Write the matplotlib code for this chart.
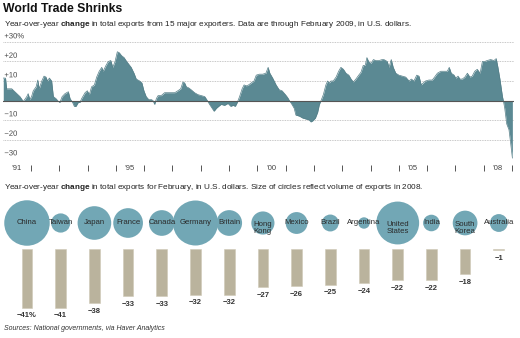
import matplotlib
matplotlib.use("Agg")
import matplotlib.pyplot as plt
import matplotlib.patheffects as pe

plt.rcParams['font.family'] = ['Liberation Sans', 'DejaVu Sans']
plt.rcParams['mathtext.fontset'] = 'custom'
plt.rcParams['mathtext.rm'] = 'Liberation Sans'
plt.rcParams['mathtext.bf'] = 'Liberation Sans:bold'

# year-over-year change in exports of 15 major exporters (%)
trade_years = [1991.02, 1991.10, 1991.14, 1991.32, 1991.43, 1991.61, 1991.73, 1991.85, 1991.90, 1991.96,
               1992.02, 1992.08, 1992.18, 1992.24, 1992.29, 1992.38, 1992.46, 1992.53, 1992.58, 1992.65,
               1992.73, 1992.79, 1992.88, 1992.97, 1993.02, 1993.10, 1993.20, 1993.32, 1993.38, 1993.47,
               1993.53, 1993.59, 1993.67, 1993.73, 1993.79, 1993.91, 1993.99, 1994.06, 1994.14, 1994.24,
               1994.32, 1994.41, 1994.50, 1994.55, 1994.65, 1994.73, 1994.82, 1994.89, 1994.97, 1995.05,
               1995.12, 1995.20, 1995.29, 1995.38, 1995.54, 1995.64, 1995.72, 1995.78, 1995.84, 1995.92,
               1995.99, 1996.07, 1996.16, 1996.25, 1996.31, 1996.37, 1996.43, 1996.49, 1996.60, 1996.72,
               1996.84, 1996.96, 1997.08, 1997.19, 1997.29, 1997.37, 1997.43, 1997.49, 1997.57, 1997.66,
               1997.78, 1997.90, 1998.02, 1998.14, 1998.23, 1998.31, 1998.40, 1998.47, 1998.55, 1998.63,
               1998.72, 1998.84, 1998.96, 1999.06, 1999.14, 1999.22, 1999.29, 1999.37, 1999.46, 1999.53,
               1999.61, 1999.69, 1999.78, 1999.88, 1999.96, 2000.07, 2000.19, 2000.30, 2000.38, 2000.44,
               2000.54, 2000.66, 2000.77, 2000.87, 2000.99, 2001.07, 2001.13, 2001.22, 2001.30, 2001.36,
               2001.48, 2001.60, 2001.72, 2001.83, 2001.89, 2001.95, 2002.05, 2002.13, 2002.19, 2002.25,
               2002.33, 2002.42, 2002.48, 2002.54, 2002.60, 2002.68, 2002.78, 2002.87, 2002.95, 2003.04,
               2003.13, 2003.23, 2003.31, 2003.39, 2003.48, 2003.58, 2003.66, 2003.74, 2003.81, 2003.87,
               2003.93, 2004.01, 2004.10, 2004.18, 2004.30, 2004.41, 2004.47, 2004.59, 2004.65, 2004.73,
               2004.80, 2004.89, 2005.00, 2005.12, 2005.24, 2005.36, 2005.44, 2005.53, 2005.63, 2005.71,
               2005.79, 2005.86, 2005.94, 2006.06, 2006.18, 2006.26, 2006.36, 2006.48, 2006.59, 2006.71,
               2006.78, 2006.85, 2006.95, 2007.01, 2007.09, 2007.16, 2007.24, 2007.33, 2007.42, 2007.51,
               2007.59, 2007.68, 2007.77, 2007.87, 2007.95, 2008.03, 2008.12, 2008.24, 2008.36, 2008.44,
               2008.50, 2008.57, 2008.66, 2008.69, 2008.74, 2008.81, 2008.89, 2008.95, 2009.01]
trade_change = [11.5, 11.5, 6, 6, 4.5, 2, -0.5, 2, 3.5, 0.5,
                2, 5, 7, 10.5, 6, 10, 12.5, 12, 10, 11.5,
                10, 2, 1, -0.5, -1, 2, 3.5, 4.5, 1, -1,
                -3, -3, -1, -1, 1, 4, 5, 3, 7, 8,
                12, 15, 17, 15, 18, 20, 20.5, 17, 20, 25,
                24.5, 23, 22, 20, 17, 14, 11, 10.5, 10, 9,
                5, 2, 0.5, 0.5, 0, -2, 1, 2.5, 2.5, 4,
                4, 4, 4, 5, 6, 9.5, 9, 7, 6.5, 5.5,
                4, 3, 2.5, 2, 0, -2, -4, -5.5, -4, -3,
                -2, -2.5, -1.5, -3, -2.5, -3, -1, 2, 6, 8,
                7.5, 8, 9, 10, 13, 13.5, 13.5, 14, 17, 14,
                11.5, 8, 5.5, 5, 3, 1.5, 0, -2, -4, -7.5,
                -8, -9, -9.5, -10, -11, -10.5, -9, -6, -2, 0,
                3, 8, 10, 9, 10, 10, 12, 15, 17, 16,
                14, 13, 11, 9.5, 11, 13, 14.5, 18, 18, 22,
                20, 19, 21, 20.5, 20.5, 21, 21, 20, 17, 21,
                17, 14, 13, 12.5, 12, 10, 11, 10, 13, 12.5,
                8, 9, 10, 10.5, 10.5, 12, 14, 15, 15, 15,
                17, 14, 13, 11.5, 12.5, 11, 11, 12, 14, 12,
                12.5, 15, 16, 14, 20, 20, 20.5, 21, 20.5, 21.5,
                17, 11, 2, 0, -4, -12, -15, -22, -29.5]

tick_years = list(range(1992, 2010))
label_years = [1991, 1995, 2000, 2005, 2008]
year_labels = ["\u201991", "\u201995", "\u201900", "\u201905", "\u201908"]
grid_values = [30, 20, 10, -10, -20, -30]
grid_labels = ["+30%", "+20", "+10", "\u221210", "\u221220", "\u221230"]

countries = ["China", "Taiwan", "Japan", "France", "Canada", "Germany", "Britain", "Hong\nKong",
             "Mexico", "Brazil", "Argentina", "United\nStates", "India", "South\nKorea", "Australia"]
feb_change = [-41, -41, -38, -33, -33, -32, -32, -27, -26, -25, -24, -22, -22, -18, -1]
# 2008 exports, billions of dollars (circle area)
exports_2008 = [1430, 255, 782, 609, 456, 1400, 458, 370, 330, 198, 90, 1270, 190, 422, 220]

W, H = 520, 338
fig = plt.figure(figsize=(W / 100, H / 100), dpi=100)


def px_axes(x0, y0, x1, y1):
    return fig.add_axes([x0 / W, 1 - y1 / H, (x1 - x0) / W, (y1 - y0) / H])


fig.text(3 / W, 1 - 9 / H, "World Trade Shrinks", fontsize=8.8, fontweight="heavy",
         ha="left", va="center", color="#111111")
fig.text(4 / W, 1 - 24 / H,
         r"Year-over-year $\mathbf{change}$ in total exports from 15 major exporters. "
         "Data are through February 2009, in U.S. dollars.",
         fontsize=5.9, ha="left", va="center", color="#222222")

# --- area chart ---
ax = px_axes(2.7, 42, 513.5, 159)
ax.set_xlim(1991, 2009.05)
ax.set_ylim(-30, 30)
for v, lab in zip(grid_values, grid_labels):
    ax.axhline(v, color="#b5b5b5", lw=0.6, ls=(0, (1, 1)), zorder=0)
    ax.annotate(lab, (0, v), xycoords=("axes fraction", "data"), xytext=(1.2, 1.2),
                textcoords="offset points", fontsize=5.5, color="#444444", ha="left", va="bottom",
                zorder=5, path_effects=[pe.withStroke(linewidth=1.2, foreground="white")])
ax.fill_between(trade_years, trade_change, 0, color="#5b8993", lw=0, zorder=1)
ax.plot(trade_years, trade_change, color="#557f88", lw=0.5, zorder=1)
ax.axhline(0, color="#555555", lw=0.8, zorder=2)
for s in ["top", "left", "right"]:
    ax.spines[s].set_visible(False)
ax.spines["bottom"].set_position(("outward", 4))
ax.spines["bottom"].set_color("none")
ax.set_yticks([])
ax.set_xticks(tick_years)
ax.set_xticklabels([])
ax.set_xticks([y + 0.5 for y in label_years], minor=True)
ax.set_xticklabels(year_labels, minor=True)
ax.tick_params(axis="x", which="major", length=4.5, width=0.7, color="#555555")
ax.tick_params(axis="x", which="minor", length=0, pad=0.5, labelsize=5.5, labelcolor="#444444")

fig.text(4 / W, 1 - 187 / H,
         r"Year-over-year $\mathbf{change}$ in total exports for February, in U.S. dollars. "
         "Size of circles reflect volume of exports in 2008.",
         fontsize=5.9, ha="left", va="center", color="#222222")

idx = list(range(len(countries)))

# --- circles ---
axc = px_axes(10.15, 198, 515.65, 248)
axc.set_xlim(-0.5, 14.5)
axc.set_ylim(-1, 1)
axc.axis("off")
axc.scatter(idx, [0] * len(idx), s=[v * 0.75 for v in exports_2008], color="#72a7b5",
            linewidths=0, clip_on=False, zorder=1)
for i, name in zip(idx, countries):
    dy = -3.4 if "\n" in name else 0
    axc.annotate(name, (i, 0), xytext=(0, dy), textcoords="offset points", ha="center", va="center",
                 fontsize=5.6, color="#2a2a2a", linespacing=1.05, zorder=3, annotation_clip=False)

# --- bars ---
axb = px_axes(10.15, 248.5, 515.65, 338)
axb.set_xlim(-0.5, 14.5)
axb.set_ylim(-62.15, 0)
axb.axis("off")
axb.bar(idx, feb_change, width=0.32, color="#bab39d", edgecolor="#cfc9b6", lw=0.4, clip_on=False)
for i, v in zip(idx, feb_change):
    lab = "\u2212%d" % abs(v) + ("%" if i == 0 else "")
    axb.annotate(lab, (i, v), xytext=(0, -3.5), textcoords="offset points", ha="center", va="top",
                 fontsize=5.5, fontweight="bold", color="#333333", annotation_clip=False)

fig.text(4 / W, 1 - 329 / H, "Sources: National governments, via Haver Analytics", fontsize=5.0,
         style="italic", ha="left", va="center", color="#333333")

fig.savefig("out.png", dpi=100)
